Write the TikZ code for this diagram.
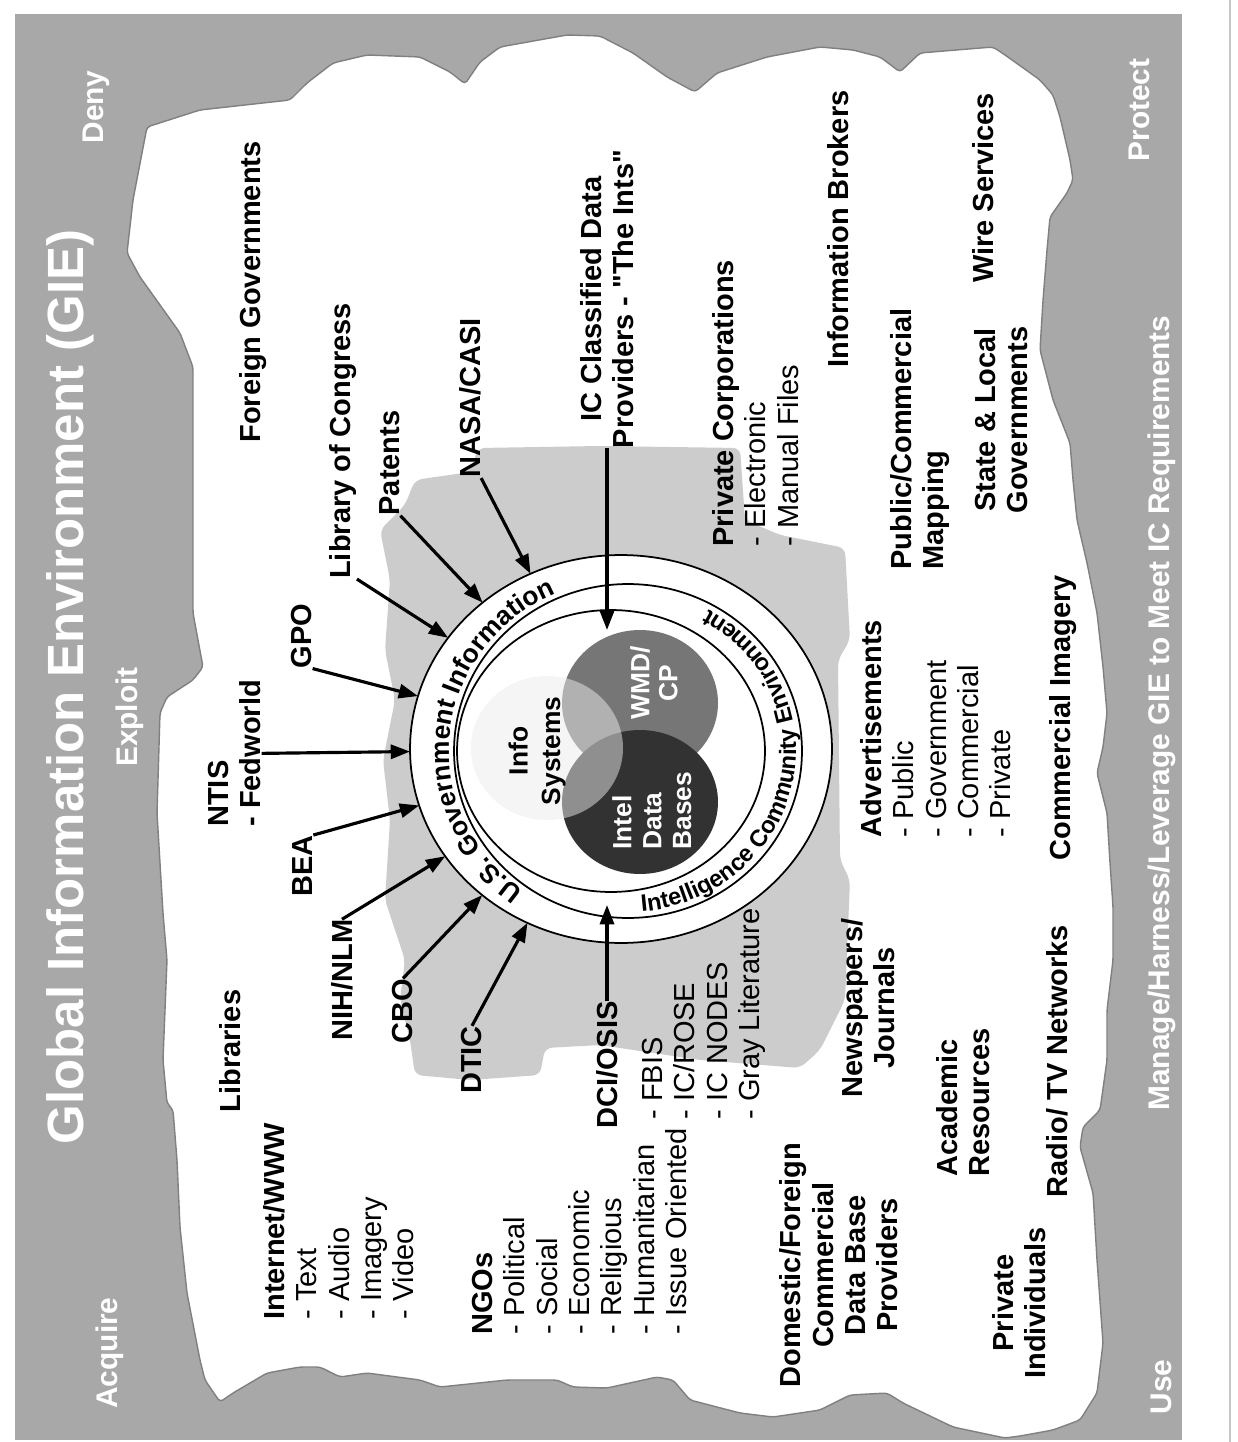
\documentclass[tikz,border=0pt]{standalone}
\usepackage{fontspec}
\setmainfont{Liberation Sans}
\usetikzlibrary{arrows.meta, positioning, shapes.geometric, decorations.text}
\definecolor{bandgray}{RGB}{168,168,168}
\definecolor{shadowgray}{RGB}{204,204,204}
\definecolor{edgegray}{RGB}{128,128,128}
\definecolor{wmdgray}{RGB}{118,118,118}
\definecolor{inteldark}{RGB}{50,50,50}
\definecolor{infolight}{RGB}{236,236,236}

\begin{document}
\begin{tikzpicture}[
  x=0.02cm, y=-0.02cm,
  lbl/.style={rotate=90, inner sep=0pt, font=\fontsize{16.5}{18.4}\selectfont\bfseries},
  sub/.style={rotate=90, inner sep=0pt, align=left, font=\fontsize{16.5}{18.4}\selectfont},
  band/.style={rotate=90, inner sep=0pt, text=white, font=\fontsize{17}{20}\selectfont\bfseries},
  ring/.style={ellipse, draw, line width=1pt, inner sep=0pt, outer sep=0pt},
  venn/.style={ellipse, inner sep=0pt, outer sep=0pt},
  arr/.style={-{Triangle[length=11pt, width=8pt]}, line width=1.8pt}
]
  \useasboundingbox (0,0) rectangle (1237,1442);
  \fill[bandgray] (15,14) rectangle (1182,1440);
  \draw[gray!45, line width=0.6pt] (1230,0) -- (1230,1442);

  \filldraw[fill=white, draw=edgegray, line width=0.8pt, rounded corners=2pt]
    (147,127) -- (200,110) -- (290,100) -- (307,83) -- (333,63) -- (367,55) -- (420,57) -- (450,72)
    -- (465,84) -- (480,62) -- (500,47) -- (567,35) -- (600,36) -- (633,53) -- (667,77) -- (695,92)
    -- (717,73) -- (767,57) -- (820,47) -- (853,50) -- (880,57) -- (900,72) -- (920,53) -- (993,47)
    -- (1005,55) -- (1040,80) -- (1053,95) -- (1060,117) -- (1070,160) -- (1073,180) -- (1067,193)
    -- (1050,217) -- (1047,250) -- (1043,300) -- (1040,350) -- (1053,400) -- (1070,443) -- (1073,480)
    -- (1077,520) -- (1087,563) -- (1097,613) -- (1103,667) -- (1107,713) -- (1103,747) -- (1097,773)
    -- (1107,813) -- (1110,863) -- (1113,907) -- (1113,960) -- (1107,1010) -- (1107,1060) -- (1100,1110)
    -- (1083,1127) -- (1080,1147) -- (1093,1193) -- (1097,1260) -- (1103,1343) -- (1097,1393)
    -- (1080,1420) -- (1053,1430) -- (1020,1436) -- (1005,1438) -- (953,1427) -- (903,1403)
    -- (887,1393) -- (850,1395) -- (820,1410) -- (773,1417) -- (740,1413) -- (690,1400) -- (673,1380)
    -- (657,1377) -- (607,1388) -- (573,1387) -- (557,1380) -- (507,1380) -- (440,1387) -- (420,1380)
    -- (367,1373) -- (340,1377) -- (320,1367) -- (300,1367) -- (267,1373) -- (233,1393) -- (220,1402)
    -- (205,1380) -- (200,1360) -- (187,1293) -- (180,1227) -- (177,1160) -- (173,1110) -- (167,1103)
    -- (163,1060) -- (167,960) -- (163,913) -- (157,813) -- (160,713) -- (167,697) -- (193,680)
    -- (203,667) -- (193,613) -- (193,480) -- (193,433) -- (193,367) -- (180,333) -- (140,277)
    -- (127,253) -- (133,200) -- cycle;

  \fill[shadowgray, rounded corners=4pt]
    (380,530) -- (405,505) -- (415,480) -- (470,472) -- (478,448) -- (600,446) -- (740,448)
    -- (745,520) -- (780,535) -- (845,548) -- (850,640) -- (838,660) -- (840,860) -- (850,880)
    -- (845,1000) -- (820,1050) -- (800,1068) -- (700,1060) -- (600,1045) -- (545,1048) -- (540,1075)
    -- (470,1080) -- (415,1075) -- (410,1040) -- (400,1000) -- (405,960) -- (385,900) -- (390,820)
    -- (383,760) -- (395,700) -- (385,650) -- (390,580) -- cycle;

  \node[ring, fill=white, minimum width=8.44cm, minimum height=7.76cm] (gov) at (621,749) {};
  \node[ring, minimum width=6.96cm, minimum height=6.68cm] (icouter) at (628,751) {};
  \node[ring, minimum width=6.16cm, minimum height=5.64cm] (icinner) at (611,751) {};

  \node[venn, fill=wmdgray, minimum width=3.12cm, minimum height=2.92cm] (wmd) at (640,703) {};
  \node[venn, fill=inteldark, minimum width=3.12cm, minimum height=2.88cm] (intel) at (640,802) {};
  \node[venn, fill=infolight, opacity=0.5, minimum width=3.04cm, minimum height=2.88cm] (info) at (547,748) {};

  \path[decorate, decoration={text along path, text align=center,
      text={|\fontsize{15}{15}\selectfont\bfseries|U.S. Government Information}}]
    (628,751) ++(96:179 and 172) arc[start angle=96, end angle=276, x radius=179, y radius=172];
  \path[decorate, decoration={text along path, text align=center,
      text={|\fontsize{13.5}{13.5}\selectfont\bfseries|Intelligence Community Environment}}]
    (628,751) ++(102:168 and 161) arc[start angle=102, end angle=-78, x radius=168, y radius=161];

  \node[rotate=90, inner sep=0pt, align=center, font=\fontsize{15}{18.5}\selectfont\bfseries] (infotxt) at (537,751) {Info\\Systems};
  \node[rotate=90, inner sep=0pt, align=center, text=white, font=\fontsize{15}{16}\selectfont\bfseries] (wmdtxt) at (654,683) {WMD/\\CP};
  \node[rotate=90, inner sep=0pt, align=left, anchor=north west, text=white, font=\fontsize{15}{17}\selectfont\bfseries] (inteltxt) at (612,850) {Intel\\Data\\Bases};

  \node[band, font=\fontsize{29}{30}\selectfont\bfseries] (title) at (70,687) {Global Information Environment (GIE)};
  \node[band] (acquire) at (110,1353) {Acquire};
  \node[band] (exploit) at (130,717) {Exploit};
  \node[band] (deny) at (96,107) {Deny};
  \node[band] (use) at (1161,1387) {Use};
  \node[band] (manage) at (1162,713) {Manage/Harness/Leverage GIE to Meet IC Requirements};
  \node[band] (protect) at (1139,110) {Protect};

  \node[lbl] (forgov) at (253,292) {Foreign Governments};
  \node[lbl] (libcong) at (343,441) {Library of Congress};
  \node[lbl] (patents) at (390,463) {Patents};
  \node[lbl] (nasa) at (470,398) {NASA/CASI};
  \node[lbl, align=center] (icdata) at (607,299) {IC Classified Data\\Providers - \textquotedbl The Ints\textquotedbl};
  \node[lbl] (infobrk) at (838,229) {Information Brokers};
  \node[lbl] (wire) at (983,188) {Wire Services};
  \node[lbl, align=center] (stategov) at (1001,420) {State \& Local\\Governments};
  \node[lbl, align=left, anchor=north west] (pubmap) at (890,570) {Public/Commercial\\Mapping};
  \node[sub, anchor=north west] (privcorp) at (712,547) {\textbf{Private Corporations}\\- Electronic\\- Manual Files};
  \node[sub, anchor=north west] (advert) at (860,838) {\textbf{Advertisements}\\- Public\\- Government\\- Commercial\\- Private};
  \node[lbl] (commimg) at (1063,718) {Commercial Imagery};
  \node[lbl] (gpo) at (302,636) {GPO};
  \node[lbl, align=left, anchor=north west] (ntis) at (208,827) {NTIS\\- Fedworld};
  \node[lbl] (bea) at (303,866) {BEA};
  \node[lbl] (nih) at (342,980) {NIH/NLM};
  \node[lbl] (cbo) at (403,1011) {CBO};
  \node[lbl] (dtic) at (472,1060) {DTIC};
  \node[lbl] (libraries) at (230,1051) {Libraries};
  \node[sub, anchor=north west] (internet) at (263,1320) {\textbf{Internet/WWW}\\- Text\\- Audio\\- Imagery\\- Video};
  \node[sub, anchor=north west] (ngos) at (472,1335) {\textbf{NGOs}\\- Political\\- Social\\- Economic\\- Religious\\- Humanitarian\\- Issue Oriented};
  \node[lbl] (dci) at (607,1065) {DCI/OSIS};
  \node[sub, anchor=north west] (dcilist) at (642,1120) {- FBIS\\- IC/ROSE\\- IC NODES\\- Gray Literature};
  \node[lbl, align=center] (domestic) at (839,1265) {Domestic/Foreign\\Commercial\\Data Base\\Providers};
  \node[lbl, align=center] (newspapers) at (868,1008) {Newspapers/\\Journals};
  \node[lbl, align=left, anchor=north west] (academic) at (936,1177) {Academic\\Resources};
  \node[lbl, align=center] (privind) at (1019,1303) {Private\\Individuals};
  \node[lbl] (radio) at (1057,1061) {Radio/ TV Networks};

  \coordinate (dcitip) at (609,905);
  \draw[arr] (gpo.south west) -- (gov);
  \draw[arr] (ntis.south) -- (gov);
  \draw[arr] (bea.south east) -- (gov);
  \draw[arr] (nih.east) -- (gov);
  \draw[arr] (cbo.east) -- (gov);
  \draw[arr] (dtic.east) -- (gov);
  \draw[arr] (libcong.south west) -- (gov);
  \draw[arr] (patents.south west) -- (gov);
  \draw[arr] (nasa.south west) -- (gov);
  \draw[arr] (icdata.west) -- (icdata.west |- wmd.north);
  \draw[arr] (dci.east) -- (dci.east |- dcitip);
\end{tikzpicture}
\end{document}
